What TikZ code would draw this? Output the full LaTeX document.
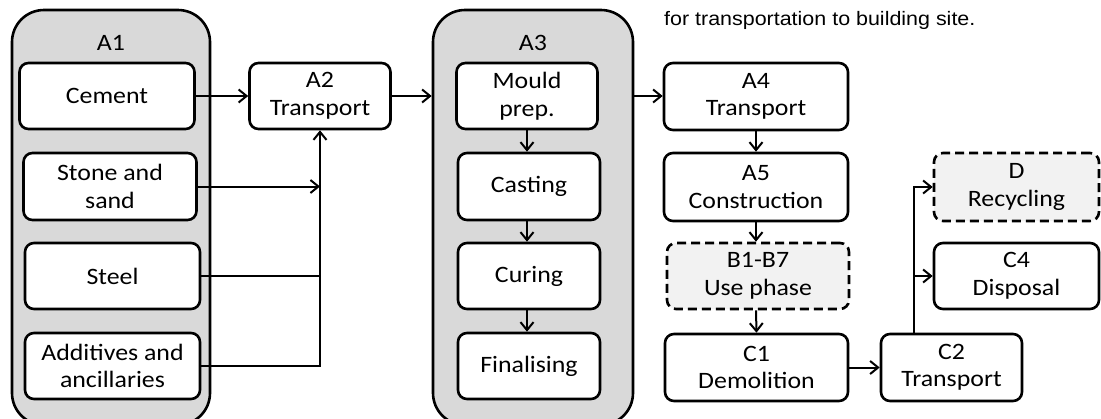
\documentclass[tikz,border=0pt]{standalone}
\usepackage{fontspec}
\setmainfont{Carlito}[FakeStretch=1.1]
\newfontfamily\arialf{Liberation Sans}[FakeStretch=1.1]
\usetikzlibrary{arrows.meta}
\definecolor{contgray}{HTML}{D9D9D9}
\definecolor{lightgray2}{HTML}{F2F2F2}
\begin{document}
\begin{tikzpicture}[x=1pt,y=-1pt,
  boxfont/.style={font=\fontsize{23.5}{27.5}\selectfont},
  box/.style={draw, line width=2.6pt, rounded corners=9pt, fill=white, align=center, boxfont, inner sep=0pt},
  dbox/.style={box, fill=lightgray2, dash pattern=on 9pt off 5pt},
  cont/.style={draw, line width=2.6pt, rounded corners=32pt, fill=contgray, inner sep=0pt},
  lbl/.style={boxfont, inner sep=0pt},
  conn/.style={line width=2pt},
  arr/.style={line width=2pt, -{Straight Barb[length=8pt,width=13pt]}}
]
\useasboundingbox (0,0) rectangle (1101,418);
% containers
\node[cont, minimum width=198pt, minimum height=415pt] (A1box) at (111,217.5) {};
\node[cont, minimum width=200pt, minimum height=415pt] (A3box) at (533,217.5) {};
\node[lbl] (A1lbl) at (111,43) {A1};
\node[lbl] (A3lbl) at (533,43) {A3};
% A1 boxes
\node[box, minimum width=175pt, minimum height=66pt] (cement) at (107,96) {Cement};
\node[box, minimum width=173pt, minimum height=67pt] (stone) at (110,186.5) {Stone and\\sand};
\node[box, minimum width=175pt, minimum height=66pt] (steel) at (112.5,276) {Steel};
\node[box, minimum width=175pt, minimum height=66pt] (add) at (112.5,366) {Additives and\\ancillaries};
% A2
\node[box, minimum width=141pt, minimum height=66pt] (a2) at (320,96) {A2\\Transport};
% A3 boxes
\node[box, minimum width=141pt, minimum height=66pt] (mould) at (527,96) {Mould\\prep.};
\node[box, minimum width=142pt, minimum height=67pt] (casting) at (529,186.5) {Casting};
\node[box, minimum width=142pt, minimum height=66pt] (curing) at (529,276) {Curing};
\node[box, minimum width=142pt, minimum height=66pt] (final) at (529,366) {Finalising};
% right column
\node[box, minimum width=184pt, minimum height=67pt] (a4) at (756,96.5) {A4\\Transport};
\node[box, minimum width=184pt, minimum height=68pt] (a5) at (756,187) {A5\\Construction};
\node[dbox, minimum width=182pt, minimum height=66pt] (b) at (758,276) {B1-B7\\Use phase};
\node[box, minimum width=183pt, minimum height=67pt] (c1) at (756.5,367.5) {C1\\Demolition};
\node[box, minimum width=141pt, minimum height=67pt] (c2) at (951.5,367.5) {C2\\Transport};
\node[dbox, minimum width=165pt, minimum height=68pt] (d) at (1016.5,187) {D\\Recycling};
\node[box, minimum width=165pt, minimum height=66pt] (c4) at (1016.5,276) {C4\\Disposal};
% top text
\node[anchor=base west, inner sep=0pt, font=\arialf\fontsize{19.5}{22}\selectfont] (note) at (664,25) {for transportation to building site.};
% connectors
\draw[arr] (cement.east) -- (cement.east -| a2.west);
\draw[arr] (stone.east) -- (stone.east -| a2.south);
\draw[conn] (steel.east) -- (steel.east -| a2.south);
\draw[arr] (add.east) -| (a2.south);
\draw[arr] (a2.east) -- (a2.east -| A3box.west);
\draw[arr] (A3box.east |- mould.east) -- (a4.west |- mould.east);
\draw[arr] (mould.south) -- (mould.south |- casting.north);
\draw[arr] (casting.south -| mould.south) -- (mould.south |- curing.north);
\draw[arr] (curing.south -| mould.south) -- (mould.south |- final.north);
\draw[arr] (a4) -- (a5);
\draw[arr] (a5.south) -- (a5.south |- b.north);
\draw[arr] (b.south -| a5.south) -- (c1.north);
\draw[arr] (c1.east) -- (c1.east -| c2.west);
\coordinate (cj) at (914,334);
\draw[arr] (cj) |- (d.west);
\draw[arr] (cj |- c4.west) -- (c4.west);
\end{tikzpicture}
\end{document}
